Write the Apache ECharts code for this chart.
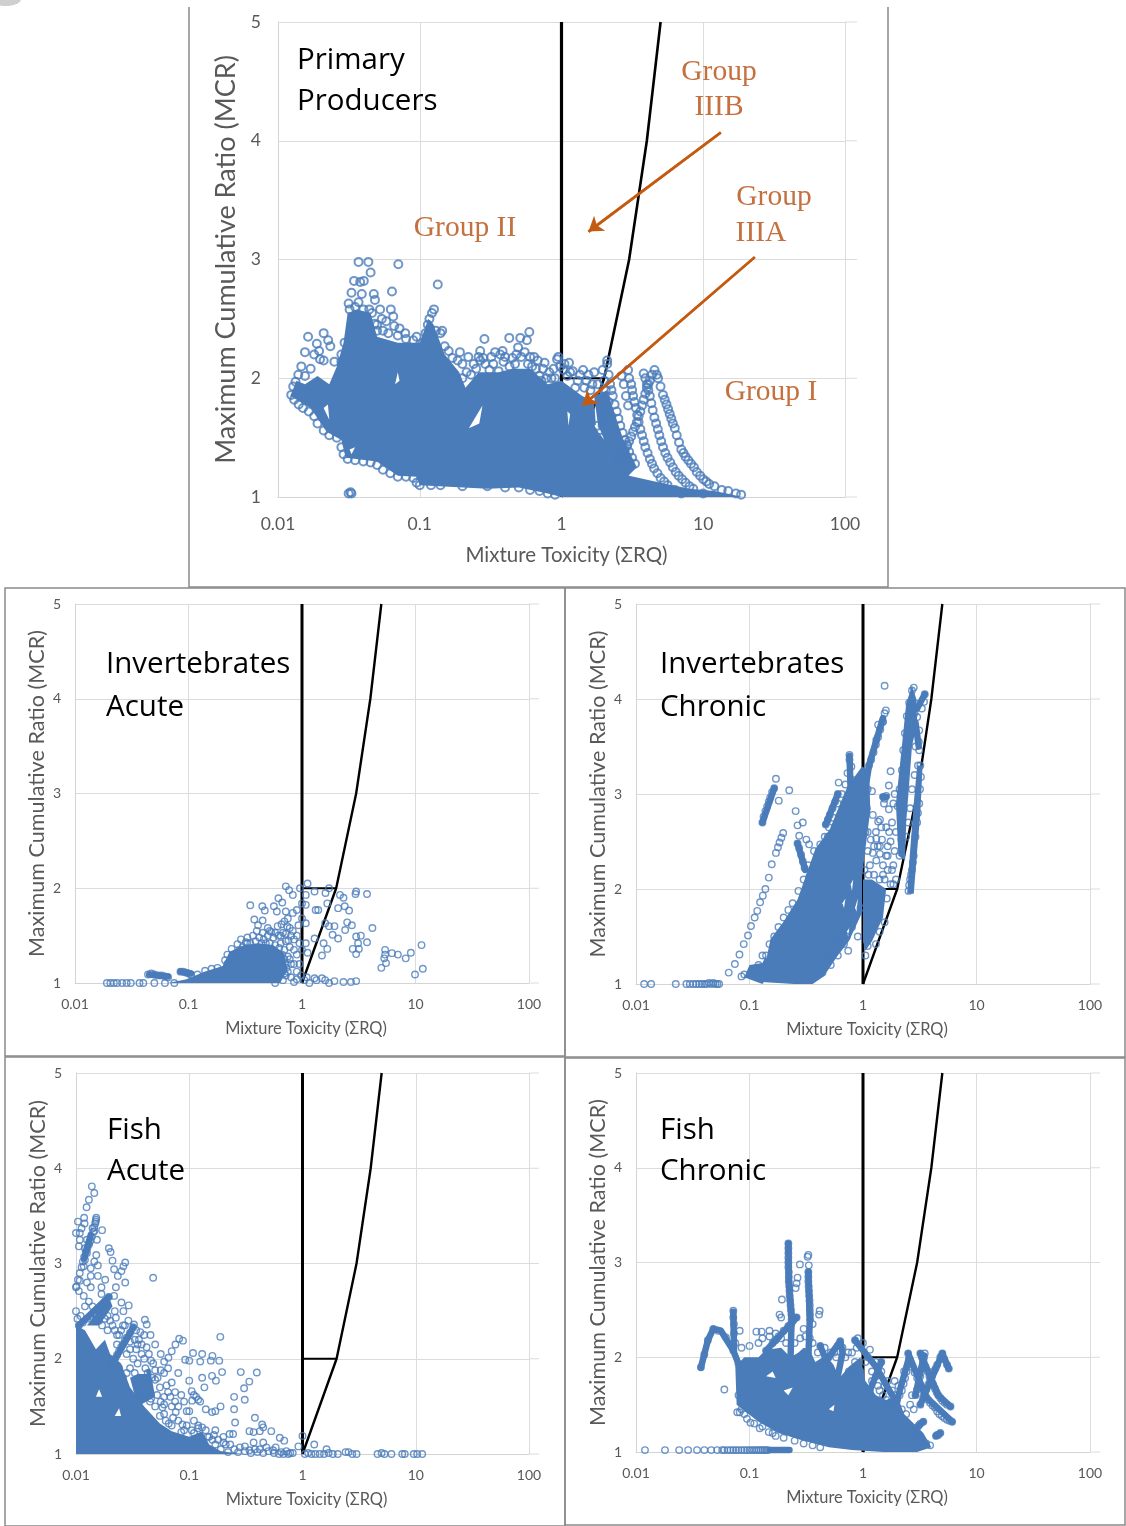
<!DOCTYPE html>
<html><head><meta charset="utf-8">
<style>html,body{margin:0;padding:0;background:#fff}#c{width:1126px;height:1526px}</style>
<script src="https://cdn.jsdelivr.net/npm/echarts@6/dist/echarts.min.js"></script>
</head><body><div id="c"></div>
<script>
const xTickLabels=['0.01','0.1','1','10','100'];
const yAxisTitle='Maximum Cumulative Ratio (MCR)';
const xAxisTitle='Mixture Toxicity (ΣRQ)';
const boundaryVertical=[[1,1],[1,5]];
const boundaryCurve=[[1,1],[2,2],[3,3],[4,4],[5,5]];
const boundaryStep=[[1,2],[2,2]];
const arrowIIIB=[[13.3,4.07],[1.55,3.235]];
const arrowIIIA=[[23.1,3.02],[1.41,1.77]];
const gridLevels=[1,2,3,4,5];

// saturated regions, where single markers can no longer be told apart: outlines
const ppCore=[[[0.0122,1.85],[0.0135,1.98],[0.0155,1.95],[0.019,2.02],[0.023,1.95],[0.026,2.1],[0.029,2.3],[0.031,2.55],[0.036,2.58],[0.045,2.55],[0.05,2.35],[0.07,2.3],[0.1,2.3],[0.115,2.5],[0.125,2.45],[0.15,2.2],[0.19,2.05],[0.21,1.92],[0.26,2.05],[0.36,2.05],[0.45,2.08],[0.6,2.08],[0.8,1.95],[1.0,1.98],[1.4,1.85],[1.7,1.8],[1.75,1.6],[2.0,1.42],[2.5,1.28],[3,1.18],[5,1.12],[8,1.07],[12,1.05],[19,1.0],[1.9,1.0],[1,1.0],[0.8,1.03],[0.5,1.08],[0.3,1.07],[0.1,1.1],[0.095,1.17],[0.07,1.18],[0.05,1.3],[0.03,1.33],[0.028,1.48],[0.022,1.55],[0.017,1.75]],[[1.7,1.85],[2.1,1.9],[2.3,1.75],[2.7,1.5],[3.1,1.35],[3.4,1.25],[2.8,1.15],[2,1.2]]];
const iaCore=[[[0.066,1.0],[0.096,1.04],[0.138,1.12],[0.2,1.18],[0.23,1.33],[0.31,1.4],[0.415,1.42],[0.556,1.4],[0.69,1.32],[0.75,1.14],[0.64,1.0]]];
const icCore=[[[0.128,1.02],[0.153,1.47],[0.198,1.65],[0.265,1.89],[0.38,2.42],[0.51,2.63],[0.63,2.9],[0.73,3.08],[0.98,3.29],[1.13,3.25],[1.16,2.83],[1.05,2.42],[0.98,2.13],[0.98,1.75],[0.75,1.45],[0.6,1.3],[0.45,1.08],[0.36,1.0],[0.246,1.0]],[[0.09,1.07],[0.1,1.2],[0.13,1.22],[0.14,1.3],[0.15,1.1],[0.13,1.0],[0.1,1.05]],[[1.0,1.45],[1.0,2.1],[1.2,2.1],[1.6,2.0],[1.5,1.7],[1.2,1.45],[1.05,1.35]],[[2.05,2.35],[1.95,2.9],[2.2,3.5],[2.4,3.95],[2.7,4.14],[2.95,4.0],[3.0,3.75],[2.7,3.5],[2.55,3.1],[2.4,2.7],[2.35,2.3]],[[2.45,1.95],[2.6,2.4],[2.8,2.9],[3.0,3.3],[3.35,3.3],[3.2,2.8],[3.0,2.4],[2.8,1.95]]];
const faCore=[[[0.01,1],[0.01,2.35],[0.012,2.3],[0.015,2.1],[0.018,2.2],[0.02,2.05],[0.025,1.95],[0.03,1.7],[0.04,1.5],[0.055,1.32],[0.07,1.24],[0.1,1.18],[0.13,1.24],[0.15,1.1],[0.19,1.03],[0.3,1.0]],[[0.0125,2.35],[0.0195,2.65],[0.021,2.55],[0.016,2.35]],[[0.03,1.8],[0.045,1.9],[0.05,1.6],[0.035,1.5]]];
const fcCore=[[[0.077,1.5],[0.075,1.9],[0.09,2.0],[0.12,2.0],[0.14,2.08],[0.19,2.1],[0.23,2.0],[0.27,2.05],[0.3,2.1],[0.34,2.08],[0.38,1.95],[0.47,2.02],[0.55,1.92],[0.62,1.78],[0.75,1.9],[0.95,2.0],[1.05,1.75],[1.3,1.6],[1.6,1.55],[2,1.6],[2.3,1.4],[2.8,1.3],[3.4,1.2],[4,1.05],[3,1.0],[1.5,1.0],[0.8,1.02],[0.5,1.05],[0.3,1.12],[0.18,1.2],[0.12,1.32]]];

// white slivers left open inside the saturated regions
const ppGaps=[[[.222,1.58],[.277,1.77],[.263,1.62]],[[.067,1.95],[.07,2.05],[.072,1.98]],[[.021,1.75],[.023,1.65],[.0225,1.78]],[[1.1,1.72],[1.12,1.6],[1.15,1.7]],[[.032,1.4],[.035,1.42],[.033,1.36]],[[1.7,1.6],[2,1.48],[1.8,1.62]]];
const iaGaps=[];
const icGaps=[[[.66,1.85],[.7,1.9],[.68,1.8]],[[.78,2.05],[.82,2.1],[.8,1.98]],[[.72,1.55],[.76,1.6],[.74,1.5]],[[.85,1.8],[.9,1.9],[.88,1.75]]];
const faGaps=[[[.036,1.84],[.041,1.94],[.042,1.84]],[[.015,1.6],[.016,1.68],[.017,1.6]],[[.022,1.4],[.024,1.48],[.025,1.4]]];
const fcGaps=[[[.2,1.65],[.24,1.68],[.22,1.6]],[[.5,1.45],[.56,1.5],[.55,1.43]],[[.14,1.8],[.16,1.85],[.17,1.78]]];

// bundles of markers so closely packed that they read as one thick stroke
const ppStreaks=[];
const iaStreaks=[[[0.045,1.09],[0.066,1.07]],[[0.085,1.12],[0.105,1.1]]];
const icStreaks=[[[0.76,3.4],[0.78,3.0],[0.85,2.7]],[[1.0,2.9],[1.13,3.3],[1.3,3.55],[1.5,3.8]],[[3.0,3.9],[3.5,4.05]],[[2.9,3.75],[3.1,3.5]],[[0.265,2.48],[0.31,2.2]],[[0.47,2.68],[0.6,3.0]],[[0.13,2.7],[0.165,3.06]],[[1.5,2.97],[1.6,2.97]]];
const faStreaks=[[[0.0118,3.05],[0.0135,3.3]],[[0.0106,2.35],[0.0195,2.65]],[[0.02,1.9],[0.032,2.33]]];
const fcStreaks=[[[0.0373,1.89],[0.043,2.18],[0.048,2.3],[0.056,2.28],[0.072,2.07],[0.085,1.85]],[[0.072,2.48],[0.073,2.1]],[[0.22,3.2],[0.222,2.8],[0.235,2.4],[0.23,2.0]],[[0.33,2.9],[0.34,2.4],[0.33,2.0]],[[0.14,2.07],[0.26,2.42]],[[5,2.04],[5.7,1.88]],[[3.2,1.5],[5,2.04]],[[3.2,2.04],[4.6,1.6],[5.9,1.48]],[[2.5,2.04],[3.6,1.58],[6.1,1.32]],[[2,1.55],[2.55,2.0]],[[2.9,1.6],[3.45,2.02]],[[0.85,2.18],[1.3,1.9],[1.8,1.6]],[[1.15,1.65],[1.45,1.95]],[[0.5,2.0],[0.63,2.17],[0.66,2.05],[0.6,1.8]],[[0.42,2.12],[0.5,1.9]],[[0.28,1.95],[0.34,1.7]],[[3,1.26],[3.4,1.32]],[[4.4,1.17],[4.8,1.2]],[[0.225,1.02],[0.15,1.02]]];

const ppPoints=[[.037,2.98],[.0434,2.98],[.0706,2.96],[.045,2.89],[.0344,2.82],[.0403,2.82],[.038,2.81],[.134,2.79],[.0637,2.73],[.033,2.72],[.039,2.71],[.0474,2.71],[.0483,2.66],[.0315,2.63],[.037,2.64],[.0525,2.58],[.0625,2.58],[.065,2.52],[.054,2.5],[.058,2.48],[.066,2.44],[.072,2.42],[.079,2.38],[.048,2.46],[.05,2.4],[.105,2.3],[.11,2.38],[.114,2.45],[.117,2.5],[.122,2.55],[.126,2.58],[.118,2.42],[.13,2.4],[.14,2.38],[.0163,2.35],[.021,2.38],[.0188,2.29],[.0226,2.32],[.0234,2.27],[.0155,2.22],[.0195,2.23],[.0146,2.1],[.0198,2.16],[.025,2.14],[.028,2.14],[.0139,2.03],[.0133,1.97],[.0128,1.93],[.0124,1.86],[.018,2.2],[.021,2.15],[.017,2.08],[.0155,2.02],[.028,2.2],[.0295,2.3],[.03,2.15],[.028,1.98],[.027,1.92],[.286,2.33],[.428,2.34],[.512,2.34],[.593,2.39],[.494,2.26],[.57,2.32],[.384,2.23],[.37,2.2],[.267,2.23],[.192,2.22],[.16,2.23],[.144,2.4],[.15,2.27],[.185,2.15],[.214,2.05],[.267,2.15],[.25,2.08],[.31,2.07],[.36,2.06],[.39,2.14],[.45,2.17],[.64,2.18],[.76,2.13],[.93,2.16],[.95,2.18],[1.13,2.13],[1.42,2.07],[1.7,2.05],[1.95,2.07],[2.1,2.15],[.17,2.17],[.2,2.12],[.22,2.18],[.28,2.17],[.33,2.12],[.47,2.12],[.52,2.18],[.58,2.12],[.66,2.08],[.7,2.02],[.82,2.05],[.88,2.08],[1.03,2.07],[1.1,2.02],[1.2,2.06],[1.3,1.98],[1.5,1.98],[1.6,1.9],[1.8,1.95],[1.85,1.85],[1.95,1.75],[2.0,1.65],[1.45,1.92],[1.25,1.92],[.9,2.0],[.72,1.98],
[4.53,2.07],[4.7,2.03],[4.8,2.0],[5.0,1.93],[5.2,1.86],[5.35,1.82],[5.5,1.78],[5.65,1.74],[5.8,1.7],[5.95,1.66],[6.1,1.62],[6.3,1.58],[6.5,1.52],[6.75,1.46],[7,1.4],[7.25,1.37],[7.5,1.34],[7.85,1.31],[8.2,1.28],[8.6,1.25],[9,1.21],[9.5,1.18],[10,1.15],[10.5,1.13],[11,1.11],[12,1.09],[13.5,1.06],[15,1.05],[17,1.03],[18.5,1.02],
[2.4,1.28],[2.5,1.3],[2.6,1.33],[2.7,1.36],[2.8,1.4],[2.9,1.44],[3.0,1.47],[3.1,1.51],[3.2,1.55],[3.3,1.59],[3.4,1.63],[3.5,1.68],[3.6,1.72],[3.7,1.77],[3.8,1.82],[3.9,1.87],[4.0,1.92],[4.1,1.95],[4.2,1.98],[4.35,2.03],
[2.95,2.07],[3.0,2.0],[3.1,1.95],[3.15,1.9],[3.2,1.85],[3.27,1.8],[3.35,1.75],[3.42,1.69],[3.5,1.63],[3.6,1.57],[3.7,1.52],[3.8,1.47],[3.9,1.42],[4.05,1.37],[4.2,1.32],[4.35,1.28],[4.5,1.24],[4.75,1.2],[5,1.16],[5.3,1.13],[5.6,1.1],[6.3,1.06],[7,1.03],
[3.8,2.04],[3.9,2.0],[4.0,1.95],[4.1,1.9],[4.2,1.85],[4.3,1.79],[4.4,1.73],[4.52,1.67],[4.65,1.62],[4.78,1.57],[4.9,1.52],[5.05,1.47],[5.2,1.42],[5.4,1.37],[5.6,1.33],[5.85,1.29],[6.1,1.25],[6.4,1.21],[6.7,1.18],[7.1,1.15],[7.5,1.12],[8,1.09],[8.5,1.07],[10,1.03],
[2.1,2.12],[2.15,2.03],[2.2,1.95],[2.25,1.9],[2.3,1.85],[2.37,1.78],[2.45,1.72],[2.52,1.66],[2.6,1.6],[2.7,1.54],[2.8,1.48],[2.9,1.43],[3,1.38],[3.15,1.33],[3.3,1.28],[2.65,2.02],[2.75,1.95],[2.85,1.85],[2.95,1.77],[1.95,1.6],[2.05,1.7],[2.15,1.8],[2.25,1.68],[2.35,1.55],[2.5,1.45],[1.55,1.7],[1.6,1.55],[1.7,1.48],[1.85,1.4],[1.9,1.5],[1.8,1.6],
[.155,2.1],[.165,2.05],[.175,2.0],[.2,2.0],[.23,2.03],[.24,2.12],[.26,2.18],[.29,2.12],[.32,2.18],[.34,2.22],[.4,2.18],[.43,2.1],[.48,2.2],[.55,2.22],[.6,2.18],[.62,2.1],[.68,2.15],[.74,2.08],[.78,2.0],[.85,2.0],[.98,2.1],[1.05,2.12],[1.15,2.05],[1.35,2.03],[1.55,2.03],[1.65,1.95],[2.0,1.98],[2.05,1.9],
[.013,1.82],[.014,1.78],[.015,1.75],[.0165,1.72],[.018,1.68],[.019,1.62],[.021,1.56],[.023,1.52],[.026,1.5],[.028,1.42],[.029,1.36],[.031,1.32],[.035,1.31],[.04,1.3],[.045,1.29],[.05,1.27],[.055,1.23],[.062,1.2],[.07,1.17],[.08,1.17],[.09,1.16],[.095,1.12],[.1,1.1],[.12,1.1],[.14,1.1],[.2,1.09],[.3,1.09],[.4,1.08],[.5,1.08],[.6,1.06],[.7,1.05],[.8,1.03],[.9,1.02],
[.0315,1.03],[.033,1.03],[.0325,1.04],[1.2,1.05],[1.4,1.05],[1.6,1.07],[1.7,1.1],[1.75,1.06],[.032,2.58],[.035,2.6],[.04,2.58],[.044,2.58],[.046,2.55],[.05,2.45],[.055,2.4],[.06,2.38],[.07,2.36],[.08,2.33],[.09,2.32],[.095,2.35]];

const iaPoints=[[1.12,2.05],[.72,2.02],[.77,1.98],[.96,2],[1.08,1.93],[.83,1.93],[1.29,1.965],[1.61,1.95],[1.73,2.0],[2.16,1.93],[2.32,1.9],[3.0,1.965],[2.96,1.94],[3.74,1.94],[.35,1.82],[.447,1.81],[.47,1.765],[.565,1.81],[.62,1.895],[.67,1.85],[.6,1.755],[.72,1.755],[.9,1.77],[1,1.84],[1.08,1.825],[1.32,1.77],[1.39,1.77],[1.67,1.84],[2.08,1.79],[2.38,1.81],[2.6,1.765],[2.5,1.64],[2.75,1.61],[4.17,1.58],[.38,1.67],[.45,1.66],[.41,1.61],[.5,1.58],[.535,1.54],[.75,1.68],[.83,1.74],[1,1.68],[.93,1.61],[1.08,1.63],[1.6,1.63],[1.73,1.6],[1.93,1.6],[1.86,1.51],[2.08,1.47],[2.4,1.56],[3,1.49],[3.3,1.5],[3.74,1.43],[3.12,1.42],[2.8,1.36],[3.17,1.36],[3,1.305],[1.5,1.29],[1.67,1.36],[1.55,1.42],[1.29,1.47],[1.08,1.42],[1.12,1.32],[1,1.35],[5.4,1.35],[5.4,1.3],[5.3,1.26],[5.5,1.21],[5,1.16],[6.2,1.315],[7,1.3],[8.2,1.26],[9.1,1.32],[11.3,1.4],[11.6,1.15],[9.9,1.09],
[1.16,1.0],[1.29,1.05],[1.34,1.03],[1.5,1.05],[1.6,1.03],[1.73,1],[1.93,1.02],[2.32,1.01],[2.7,1.01],[3,1.02],[1.05,1.03],[1.1,1.06],[.98,1.08],[.9,1.04],[.85,1.01],[.8,1.06],
[.0191,1],[.0205,1],[.022,1],[.0235,1],[.026,1],[.0285,1],[.031,1],[.037,1],[.04,1],[.05,1],[.062,1],[.075,1],[.044,1.09],[.047,1.1],[.05,1.09],[.054,1.08],[.058,1.08],[.062,1.07],[.066,1.06],[.085,1.12],[.09,1.12],[.095,1.11],[.1,1.1],[.105,1.09],[.12,1.09],[.14,1.13],[.16,1.15],[.18,1.16],[.21,1.24],[.22,1.3],[.24,1.36],[.27,1.41],[.29,1.46],[.33,1.48],[.37,1.5],[.42,1.48],[.46,1.46],[.5,1.5],[.56,1.48],[.62,1.5],[.68,1.53],[.72,1.52],[.76,1.45],[.8,1.5],[.85,1.46],[.78,1.38],[.75,1.28],[.8,1.2],[.72,1.08],[.3,1.38],[.26,1.3],[.65,1.42],[.7,1.35],[.75,1.12],[.68,1.03],[.58,1.0],
[.22,1.2],[.25,1.27],[.28,1.35],[.32,1.43],[.35,1.42],[.39,1.44],[.44,1.42],[.48,1.42],[.52,1.42],[.58,1.4],[.63,1.37],[.67,1.3],[.7,1.25],[.72,1.2],[.73,1.16],[.7,1.1],[.33,1.42],[.25,1.18],[.4,1.55],[.45,1.53],[.52,1.55],[.58,1.53],[.61,1.6],[.66,1.62],[.7,1.65],[.74,1.6],[.78,1.58],[.83,1.55],[.9,1.5],[.95,1.42],[.9,1.3],[.85,1.2],[.9,1.12],[.95,1.2],[.65,1.5],[.62,1.3],[.78,1.25],[.85,1.35],[.72,1.44]];

const icPoints=[[.0656,1.12],[.0743,1.21],[.0816,1.31],[.089,1.42],[.097,1.51],[.103,1.61],[.111,1.7],[.117,1.77],[.124,1.86],[.131,1.93],[.138,2.0],[.148,2.12],[.157,2.26],[.171,2.38],[.178,2.44],[.184,2.49],[.191,2.54],[.198,2.59],[.13,2.7],[.133,2.76],[.138,2.82],[.143,2.87],[.148,2.92],[.152,2.96],[.158,3.02],[.165,3.06],[.171,3.16],[.181,2.93],[.224,3.04],[.255,2.82],[.265,2.67],[.295,2.7],[.274,2.56],[.265,2.48],[.274,2.43],[.285,2.36],[.295,2.29],[.306,2.22],[.337,2.13],[.317,2.52],[.335,2.47],[.49,2.55],[.47,2.68],[.49,2.73],[.51,2.78],[.54,2.85],[.57,2.92],[.6,3.0],[.76,3.41],[.76,3.36],[.79,3.29],[.73,3.22],[.8,3.15],[.61,3.12],[1.13,3.3],[1.18,3.36],[1.24,3.44],[1.3,3.52],[1.36,3.6],[1.42,3.68],[1.5,3.76],[1.55,3.85],[1.55,4.14],[1.59,3.88],[1.49,3.76],[1.36,3.73],[1.31,3.57],
[2.1,2.35],[2.18,2.52],[2.02,2.87],[2.1,3.05],[2.2,3.25],[2.26,3.46],[2.34,3.64],[2.43,3.82],[2.55,3.96],[2.7,4.09],[2.8,4.12],[2.52,1.98],[2.55,2.04],[2.6,2.1],[2.65,2.15],[2.7,2.2],[2.75,2.28],[2.8,2.35],[2.9,2.55],[3.0,2.7],[3.05,2.8],[3.13,2.9],[3.18,3.05],[3.24,3.18],[3.2,3.3],[3.13,3.46],[3.1,3.55],[3.13,3.67],[3,3.81],[3.5,4.05],[3.45,3.97],[3.3,3.9],[3.0,3.95],[2.85,3.85],[2.65,3.85],[2.7,3.7],[2.9,3.5],[3.05,3.3],[2.85,3.2],[2.7,3.05],[2.6,2.85],[2.5,2.7],[2.4,2.55],[1.95,2.6],[1.9,2.4],[1.85,2.25],[1.95,2.1],
[.0118,1],[.0136,1],[.0224,1],[.0278,1],[.0298,1],[.032,1],[.034,1],[.036,1],[.038,1],[.04,1],[.042,1],[.044,1.01],[.046,1],[.048,1.01],[.05,1],[.052,1],[.054,1],
[1.75,3.24],[1.69,3.09],[1.5,2.97],[1.55,2.95],[1.6,2.98],[1.53,2.9],[1.69,2.84],[1.22,2.78],[1.41,2.73],[1.36,2.71],[1.17,2.52],[1.31,2.53],[1.47,2.52],[1.6,2.65],[1.65,2.45],[1.41,2.37],[1.31,2.3],[1.65,2.2],[1.15,2.25],[1.41,2.45],[1.22,2.38],[1.5,2.25],[1.75,2.05],[1.8,2.2],[1.85,2.05],[1.1,3.05],[1.2,3.03],[1.1,2.6],[1.08,2.85],
[.44,1.12],[.5,1.25],[.6,1.3],[.68,1.42],[.72,1.5],[.52,1.2],[.56,1.35],[.62,1.45],[.66,1.55],[.74,1.35],[.8,1.6],[.82,1.75],[.76,1.8],[.85,1.95],[.9,1.5],[.95,1.8],[.48,1.32],[.55,1.48],[.43,1.2],
[.14,1.3],[.15,1.42],[.165,1.5],[.18,1.6],[.2,1.7],[.22,1.78],[.24,1.85],[.27,1.98],[.3,2.1],[.33,2.25],[.37,2.4],[.42,2.47],[.46,2.55],[.5,2.65],[.55,2.75],[.6,2.9],[.65,3.0],[.7,3.1],[.13,1.3],[.125,1.15],[.12,1.2],[.09,1.1],[.085,1.08],
[1.05,2.6],[1.1,2.4],[1.03,2.2],[1.12,2.15],[1.25,2.15],[1.4,2.1],[1.55,2.1],[1.62,1.9],[1.55,1.65],[1.4,1.55],[1.3,1.42],[1.1,1.4],[1.05,1.3],[1.65,2.35],[1.75,2.5],[1.8,2.7],[1.85,2.9],[1.9,3.0],[1.7,2.6],[1.6,2.35],[1.5,2.15],[1.3,2.6],[1.35,2.45],[1.45,2.65],[1.25,2.45]];

const faPoints=[[.0138,3.81],[.0145,3.74],[.013,3.67],[.0124,3.59],[.0118,3.48],[.0151,3.48],[.0149,3.44],[.0104,3.44],[.0119,3.42],[.01,3.32],[.0108,3.32],[.0112,3.37],[.014,3.37],[.0145,3.34],[.017,3.35],[.0153,3.25],[.0108,3.25],[.0106,3.18],[.0125,3.25],[.013,3.21],[.012,3.16],[.0125,3.11],[.0195,3.16],[.0202,3.12],[.021,3.03],[.0151,3.09],[.0145,3.02],[.012,3.04],[.0117,2.97],[.0135,2.95],[.0156,2.98],[.0272,3.01],[.0262,2.97],[.0252,2.92],[.0234,2.87],[.0217,2.94],[.048,2.85],[.0272,2.8],[.0181,2.83],[.0156,2.87],[.0135,2.87],[.0125,2.8],[.0108,2.82],[.01,2.75],[.0106,2.71],[.0117,2.66],[.0135,2.75],[.0168,2.75],[.0168,2.68],[.0225,2.75],[.0217,2.66],[.0252,2.59],[.0292,2.56],[.0262,2.5],[.022,2.5],[.0225,2.43],[.0325,2.36],[.0406,2.41],[.0421,2.36],[.01,2.5],[.0103,2.42],
[.0106,2.35],[.0115,2.38],[.0125,2.42],[.0135,2.45],[.0145,2.48],[.0155,2.51],[.0165,2.55],[.018,2.6],[.0195,2.65],[.0101,2.76],[.0104,2.83],[.0108,2.9],[.0112,2.96],[.0115,3.02],[.0118,3.07],[.0122,3.12],[.0126,3.16],[.013,3.2],[.0134,3.24],[.0138,3.28],[.0142,3.33],[.0145,3.38],[.0148,3.42],[.015,3.46],
[.02,1.9],[.021,1.95],[.022,2.0],[.023,2.04],[.024,2.08],[.025,2.12],[.026,2.15],[.027,2.19],[.028,2.22],[.03,2.27],[.032,2.33],[.034,2.3],[.03,2.18],[.034,2.1],[.036,2.2],[.038,2.05],[.04,2.25],[.042,2.12],[.035,1.95],[.028,2.05],[.023,2.25],[.019,2.3],[.026,2.35],[.0525,1.8],[.056,1.88],[.0655,2.01],[.07,2.08],[.0755,2.15],[.0815,2.21],[.088,2.19],[.0455,2.25],[.05,2.15],[.056,2.05],[.06,1.97],[.06,1.85],[.065,1.9],[.048,1.95],[.043,1.85],[.05,1.78],[.07,1.75],[.075,1.65],[.08,1.85],[.065,1.65],[.06,1.6],[.055,1.7],[.04,1.65],[.105,1.66],[.11,1.62],[.115,1.6],[.12,1.57],[.125,1.55],
[.188,2.23],[.108,2.06],[.13,2.05],[.16,2.03],[.184,1.98],[.092,1.99],[.1,1.98],[.125,1.97],[.155,1.98],[.195,1.86],[.285,1.86],[.395,1.855],[.339,1.76],[.305,1.69],[.249,1.6],[.309,1.57],[.249,1.47],[.38,1.38],[.44,1.31],[.45,1.28],[.189,1.5],[.159,1.44],[.17,1.45],[.14,1.47],[.13,1.8],[.159,1.82],[.172,1.77],[.1,1.77],[.136,1.7],[.106,1.56],[.076,1.44],[.1,1.45],[.058,1.49],[.06,1.42],[.087,1.31],[.11,1.35],[.254,1.33],[.227,1.21],[.244,1.21],[.34,1.24],[.37,1.23],[.42,1.24],[.53,1.24],[.63,1.17],[.69,1.14],[.45,1.12],[.37,1.12],[1,1.19],[.92,1.08],[1.27,1.1],[1.63,1.05],
[4.6,1],[5,1.01],[5.3,1],[6.1,1],[7.6,1],[8,1],[9.6,1],[10.3,1],[11.4,1],[1.05,1],[1.12,1.01],[1.2,1],[1.3,1],[1.42,1],[1.55,1],[1.7,1.01],[1.85,1],[2.05,1],[2.4,1.02],[2.55,1.02],[2.75,1],[3,1],[.31,1.03],[.35,1.01],[.4,1.02],[.45,1.01],[.5,1.03],[.56,1.01],[.62,1],[.68,1],[.75,1],[.82,1.01],[.27,1.02],[.22,1.02],[.19,1.05],[.17,1.1],[.2,1.12],[.145,1.18],[.12,1.27],[.085,1.23],[.07,1.3],[.055,1.4],[.045,1.55],[.16,1.15],
[.011,2.45],[.012,2.55],[.013,2.6],[.014,2.55],[.015,2.45],[.016,2.4],[.017,2.35],[.018,2.42],[.019,2.45],[.02,2.4],[.021,2.35],[.022,2.3],[.023,2.15],[.024,2.25],[.025,2.3],[.027,2.35],[.029,2.4],[.03,2.1],[.032,2.0],[.033,2.2],[.035,2.15],[.037,2.28],[.038,2.15],[.04,2.0],[.041,1.9],[.044,2.05],[.046,1.98],[.047,1.8],[.05,1.88],[.033,1.85],[.036,1.75],[.03,1.9],[.028,1.85],[.026,1.8],[.024,1.9],[.038,1.6],[.042,1.62],[.046,1.58],[.05,1.5],[.052,1.62],[.056,1.55],[.06,1.52],[.063,1.72],[.068,1.6],[.07,1.5],[.075,1.55],[.08,1.5],[.085,1.62],[.09,1.55],[.095,1.45],[.062,1.35],[.066,1.32],[.072,1.38],[.08,1.35],[.09,1.25],[.095,1.3],[.105,1.25],[.11,1.22],[.12,1.3],[.13,1.28],[.14,1.25],[.15,1.18],[.165,1.2],[.17,1.25],[.18,1.15],[.2,1.18],[.21,1.1],[.23,1.1],[.25,1.05],[.28,1.07],[.31,1.08],[.34,1.04],[.38,1.05],[.42,1.05],[.48,1.07],[.55,1.04],[.58,1.07],[.65,1.02],[.72,1.03],[.78,1.01]];

const fcPoints=[[.0373,1.895],[.04,2.03],[.043,2.18],[.048,2.3],[.053,2.28],[.062,2.21],[.072,2.07],[.08,1.93],[.072,2.42],[.073,2.35],[.072,2.49],[.073,2.25],[.075,2.15],[.22,3.2],[.22,3.15],[.22,3.1],[.22,3.05],[.22,3.0],[.22,2.95],[.222,2.9],[.222,2.85],[.222,2.8],[.224,2.75],[.225,2.7],[.226,2.65],[.228,2.6],[.23,2.55],[.232,2.5],[.234,2.45],[.235,2.4],[.232,2.35],[.33,3.08],[.325,3.06],[.33,2.9],[.33,2.85],[.33,2.8],[.332,2.75],[.334,2.7],[.336,2.65],[.338,2.6],[.34,2.55],[.34,2.5],[.342,2.45],[.342,2.4],[.278,2.98],[.333,2.97],[.265,2.84],[.255,2.73],[.26,2.78],[.193,2.61],[.184,2.45],[.19,2.42],[.415,2.49],[.41,2.45],
[5,2.04],[5.2,1.98],[5.5,1.92],[5.7,1.88],[4.8,2.0],[4.5,1.92],[4.35,1.88],[4.2,1.85],[4.05,1.8],[3.9,1.76],[3.75,1.71],[3.6,1.66],[3.4,1.58],[3.2,1.5],[3.2,2.04],[3.3,2.0],[3.4,1.95],[3.55,1.9],[3.7,1.85],[3.85,1.8],[4,1.76],[4.15,1.71],[4.3,1.67],[4.45,1.63],[4.6,1.6],[4.8,1.57],[5,1.54],[5.25,1.52],[5.5,1.5],[5.9,1.48],[3.5,2.04],[2.5,2.04],[2.6,1.97],[2.7,1.9],[2.85,1.84],[3,1.78],[3.15,1.73],[3.3,1.68],[3.45,1.63],[3.6,1.58],[3.75,1.55],[3.9,1.52],[4.1,1.49],[4.3,1.47],[4.5,1.43],[4.7,1.4],[4.95,1.38],[5.2,1.36],[5.5,1.34],[5.8,1.33],[6.1,1.32],[2,1.55],[2.1,1.6],[2.2,1.65],[2.28,1.72],[2.35,1.78],[2.42,1.85],[2.5,1.92],[2.55,1.98],[2.9,1.6],[3,1.66],[3.1,1.72],[3.2,1.8],[3.3,1.88],[3.4,1.96],[3.45,2.0],
[3,1.26],[3.1,1.28],[3.2,1.3],[3.4,1.32],[4.4,1.17],[4.5,1.18],[4.6,1.18],[4.8,1.2],[3.9,1.07],[3.6,1.09],[3.2,1.12],
[.012,1.02],[.018,1.02],[.024,1.02],[.0288,1.02],[.0345,1.02],[.04,1.02],[.046,1.02],[.052,1.02],[.0575,1.02],[.06,1.02],[.064,1.02],[.068,1.02],[.072,1.02],[.076,1.02],[.08,1.02],[.085,1.02],[.09,1.02],[.095,1.02],[.1,1.02],[.105,1.02],[.11,1.02],[.115,1.02],[.12,1.02],[.125,1.02],[.13,1.02],[.135,1.02],[.14,1.02],[.145,1.02],
[.06,1.66],[.082,1.42],[.102,1.31],[.123,1.25],[.148,1.21],[.17,1.17],[.082,2.28],[.115,2.27],[.128,2.27],[.14,2.07],[.16,2.15],[.18,2.22],[.2,2.28],[.22,2.33],[.24,2.38],[.26,2.42],[.42,2.12],[.46,2.1],[.5,2.0],[.56,2.05],[.6,2.12],[.63,2.17],[.66,2.1],[.85,2.18],[.9,2.2],[1.0,2.15],[1.15,2.08],[1.3,1.95],[1.45,1.85],[1.65,1.75],[1.8,1.65],[.88,2.1],[.8,2.05],[1.05,1.95],[1.1,2.0],[1.2,1.85],[1.35,1.7],[1.5,1.6],[1.7,1.5],[1.9,1.4],[1.15,1.65],[1.3,1.8],[1.45,1.95],[1.55,1.7],[1.6,1.55],[.7,2.0],[.74,2.05],[.3,2.3],[.36,2.35],[.34,2.2],[.085,2.1],[.1,2.12],[.12,2.15],[.15,2.28],[.17,2.25],[.078,1.42],[.08,1.6],
[.085,1.45],[.09,1.4],[.095,1.35],[.11,1.3],[.13,1.27],[.16,1.2],[.2,1.15],[.25,1.12],[.3,1.09],[.36,1.07],[.42,1.05],[1.2,1.75],[1.4,1.65],[1.7,1.45],[1.9,1.6],[2.05,1.7],[2.2,1.45],[2.4,1.4],[2.6,1.5],[2.7,1.6],[2.8,1.45],[2.5,1.25],[2.7,1.2],[3.0,1.18],[3.3,1.1],[2.3,1.85],[1.9,1.75],[1.6,1.5],[.95,1.85],[.85,1.95],[.75,1.85],[.7,1.75],[.8,1.85],
[.13,2.2],[.15,2.22],[.17,2.18],[.19,2.2],[.21,2.15],[.25,2.15],[.28,2.2],[.31,2.22],[.36,2.15],[.4,2.05],[.52,2.05],[.58,2.0]];

const panels=[
 {core:ppCore,gaps:ppGaps,streaks:ppStreaks,points:ppPoints,left:278,right:845,top:22,bottom:497,tick:17.5,xn:20.5,yn:27,nameGapX:48,nameGapY:31,marginX:18,marginY:17,size:8,border:2,lw:3.2,lw2:2.6,padX:10,over:12},
 {core:iaCore,gaps:iaGaps,streaks:iaStreaks,points:iaPoints,left:75,right:529,top:604,bottom:983,tick:14,xn:16.4,yn:21.6,nameGapX:38,nameGapY:27,marginX:14,marginY:14,size:6.5,border:1.4,lw:3,lw2:2.4,padX:8,over:10},
 {core:icCore,gaps:icGaps,streaks:icStreaks,points:icPoints,left:636,right:1090,top:604,bottom:984,tick:14,xn:16.4,yn:21.6,nameGapX:38,nameGapY:27,marginX:14,marginY:14,size:6.5,border:1.4,lw:3,lw2:2.4,padX:8,over:10},
 {core:faCore,gaps:faGaps,streaks:faStreaks,points:faPoints,left:76,right:529,top:1073,bottom:1454,tick:14,xn:16.4,yn:21.6,nameGapX:38,nameGapY:27,marginX:14,marginY:14,size:6.5,border:1.4,lw:3,lw2:2.4,padX:8,over:10},
 {core:fcCore,gaps:fcGaps,streaks:fcStreaks,points:fcPoints,left:636,right:1090,top:1073,bottom:1452,tick:14,xn:16.4,yn:21.6,nameGapX:38,nameGapY:27,marginX:14,marginY:14,size:6.5,border:1.4,lw:3,lw2:2.4,padX:8,over:10}
];
const font='Lato, Carlito, sans-serif', grey='#595959', blue='#4A7CBA', gridColor='#dcdcdc';
const grid=[],xAxis=[],yAxis=[],series=[];
panels.forEach((p,i)=>{
 grid.push({left:p.left,top:p.top,width:p.right-p.left,height:p.bottom-p.top});
 xAxis.push({type:'log',logBase:10,gridIndex:i,min:0.01,max:100,name:xAxisTitle,nameLocation:'middle',nameGap:p.nameGapX,
  nameTextStyle:{fontFamily:font,fontSize:p.xn,color:grey,padding:[0,0,0,p.padX]},
  axisLine:{show:true,lineStyle:{color:'#d4d4d4',width:1}},axisTick:{show:false},minorTick:{show:false},
  splitLine:{show:true,lineStyle:{color:gridColor,width:1}},minorSplitLine:{show:false},
  axisLabel:{margin:p.marginX,fontFamily:font,fontSize:p.tick,color:grey,formatter:(v,k)=>xTickLabels[k],showMinLabel:true,showMaxLabel:true}});
 yAxis.push({type:'value',gridIndex:i,min:1,max:5,interval:1,name:yAxisTitle,nameLocation:'middle',nameGap:p.nameGapY,
  nameTextStyle:{fontFamily:font,fontSize:p.yn,color:grey},
  axisLine:{show:true,lineStyle:{color:'#d4d4d4',width:1}},axisTick:{show:false},
  splitLine:{show:true,lineStyle:{color:gridColor,width:1}},
  axisLabel:{margin:p.marginY,fontFamily:font,fontSize:p.tick,color:grey}});
 const line=(d,w,c,z)=>({type:'line',xAxisIndex:i,yAxisIndex:i,data:d,showSymbol:false,silent:true,animation:false,clip:false,lineStyle:{color:c,width:w},z});
 series.push({type:'custom',xAxisIndex:i,yAxisIndex:i,silent:true,animation:false,clip:false,z:1,
  data:gridLevels.map(k=>[100,k]),
  renderItem:(params,api)=>{const c=api.coord([100,gridLevels[params.dataIndex]]);
   return {type:'line',shape:{x1:c[0],y1:c[1],x2:c[0]+p.over,y2:c[1]},style:{stroke:gridColor,lineWidth:1}};}});
 series.push(line(boundaryVertical,p.lw,'#000',2),line(boundaryCurve,p.lw2,'#000',2),line(boundaryStep,p.lw2-0.4,'#000',2));
 const polyFill=(list,fill,z)=>({type:'custom',xAxisIndex:i,yAxisIndex:i,silent:true,animation:false,clip:false,z,
  data:list.map(o=>o[0]),
  renderItem:(params,api)=>({type:'polygon',shape:{points:list[params.dataIndex].map(v=>api.coord(v))},style:{fill}})});
 series.push(polyFill(p.core,blue,3));
 if(p.streaks.length) series.push({type:'custom',xAxisIndex:i,yAxisIndex:i,silent:true,animation:false,clip:false,z:3,
  data:p.streaks.map(o=>o[0]),
  renderItem:(params,api)=>({type:'polyline',shape:{points:p.streaks[params.dataIndex].map(v=>api.coord(v))},style:{fill:null,stroke:blue,lineWidth:p.size,lineCap:'round',lineJoin:'round'}})});
 if(p.gaps.length) series.push(polyFill(p.gaps,'#fff',3.5));
 series.push({type:'scatter',xAxisIndex:i,yAxisIndex:i,data:p.points,symbol:'circle',symbolSize:p.size,silent:true,animation:false,clip:false,large:false,z:4,
  itemStyle:{color:'rgba(255,255,255,0)',borderColor:blue,borderWidth:p.border}});
});
[arrowIIIB,arrowIIIA].forEach(d=>{
 series.push({type:'line',xAxisIndex:0,yAxisIndex:0,data:d,showSymbol:false,silent:true,animation:false,z:6,lineStyle:{color:'#C55A11',width:2.6},
  markLine:{silent:true,animation:false,symbol:['none','arrow'],symbolSize:14,label:{show:false},lineStyle:{color:'#C55A11',width:2.6,type:'solid'},data:[[{coord:d[0]},{coord:d[1]}]]}});
});
const boxes=[[189,-4,699,591],[5,588,560,468],[565,588,560,469],[5,1057,560,469],[565,1058,560,467]];
const label=(t,x,y)=>({type:'text',z:20,style:{text:t,x,y,fontFamily:'"Open Sans", sans-serif',fontSize:29.5,fill:'#000',textAlign:'left',textVerticalAlign:'middle'}});
const group=(t,x,y)=>({type:'text',z:20,style:{text:t,x,y,fontFamily:'"Liberation Serif", serif',fontSize:29.5,fill:'#C4703F',textAlign:'center',textVerticalAlign:'middle'}});
const graphic=[
 {type:'ellipse',z:1,shape:{cx:6,cy:-1,rx:15,ry:7},style:{fill:'#cfcfcf'}},
 ...boxes.map(b=>({type:'rect',z:1,shape:{x:b[0],y:b[1],width:b[2],height:b[3]},style:{fill:'none',stroke:'#8a8a8a',lineWidth:1.5}})),
 {type:'rect',z:2,shape:{x:180,y:0,width:720,height:7},style:{fill:'#fff'}},
 label('Primary',297,61),label('Producers',297,102),label('Invertebrates',106,665),label('Acute',106,708),label('Invertebrates',660,665),label('Chronic',660,708),label('Fish',107,1131),label('Acute',107,1172),label('Fish',660,1131),label('Chronic',660,1172),
 group('Group',719,72),group('IIIB',719,107),group('Group',774,197),group('IIIA',761,233),group('Group II',465,228),group('Group I',771,392)
];
const chart=echarts.init(document.getElementById('c'),null,{renderer:'canvas'});
chart.setOption({animation:false,backgroundColor:'#fff',grid,xAxis,yAxis,series,graphic,tooltip:{show:false},legend:{show:false}});
</script></body></html>
